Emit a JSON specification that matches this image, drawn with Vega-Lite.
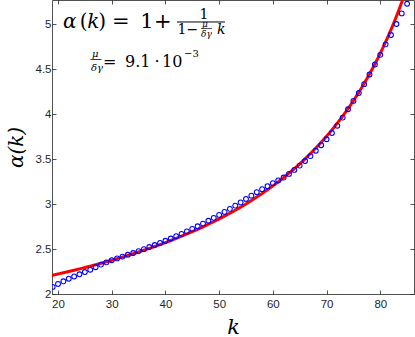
{
  "$schema": "https://vega.github.io/schema/vega-lite/v6.json",
  "width": 362,
  "height": 294,
  "autosize": {"type": "none"},
  "padding": {"left": 52, "top": 0, "right": 1, "bottom": 43},
  "background": "white",
  "config": {"view": {"stroke": null}, "text": {"font": "DejaVu Serif"}},
  "datasets": {
    "curve": [
      {"k": 18.88, "alpha": 2.2074}, {"k": 19, "alpha": 2.2090}, {"k": 20, "alpha": 2.2225}, {"k": 21, "alpha": 2.2362}, {"k": 22, "alpha": 2.2503},
      {"k": 23, "alpha": 2.2647}, {"k": 24, "alpha": 2.2794}, {"k": 25, "alpha": 2.2945}, {"k": 26, "alpha": 2.3099}, {"k": 27, "alpha": 2.3257},
      {"k": 28, "alpha": 2.3419}, {"k": 29, "alpha": 2.3585}, {"k": 30, "alpha": 2.3755}, {"k": 31, "alpha": 2.3930}, {"k": 32, "alpha": 2.4108},
      {"k": 33, "alpha": 2.4292}, {"k": 34, "alpha": 2.4480}, {"k": 35, "alpha": 2.4674}, {"k": 36, "alpha": 2.4872}, {"k": 37, "alpha": 2.5076},
      {"k": 38, "alpha": 2.5286}, {"k": 39, "alpha": 2.5501}, {"k": 40, "alpha": 2.5723}, {"k": 41, "alpha": 2.5952}, {"k": 42, "alpha": 2.6187},
      {"k": 43, "alpha": 2.6429}, {"k": 44, "alpha": 2.6678}, {"k": 45, "alpha": 2.6935}, {"k": 46, "alpha": 2.7200}, {"k": 47, "alpha": 2.7473},
      {"k": 48, "alpha": 2.7756}, {"k": 49, "alpha": 2.8047}, {"k": 50, "alpha": 2.8349}, {"k": 51, "alpha": 2.8660}, {"k": 52, "alpha": 2.8983},
      {"k": 53, "alpha": 2.9316}, {"k": 54, "alpha": 2.9662}, {"k": 55, "alpha": 3.0020}, {"k": 56, "alpha": 3.0392}, {"k": 57, "alpha": 3.0777},
      {"k": 58, "alpha": 3.1178}, {"k": 59, "alpha": 3.1594}, {"k": 60, "alpha": 3.2026}, {"k": 61, "alpha": 3.2477}, {"k": 62, "alpha": 3.2946},
      {"k": 63, "alpha": 3.3436}, {"k": 64, "alpha": 3.3946}, {"k": 65, "alpha": 3.4480}, {"k": 66, "alpha": 3.5038}, {"k": 67, "alpha": 3.5621},
      {"k": 68, "alpha": 3.6233}, {"k": 69, "alpha": 3.6874}, {"k": 70, "alpha": 3.7548}, {"k": 71, "alpha": 3.8257}, {"k": 72, "alpha": 3.9002},
      {"k": 73, "alpha": 3.9789}, {"k": 74, "alpha": 4.0618}, {"k": 75, "alpha": 4.1496}, {"k": 76, "alpha": 4.2425}, {"k": 77, "alpha": 4.3411},
      {"k": 78, "alpha": 4.4459}, {"k": 79, "alpha": 4.5575}, {"k": 80, "alpha": 4.6765}, {"k": 81, "alpha": 4.8037}, {"k": 82, "alpha": 4.9401},
      {"k": 83, "alpha": 5.0866}, {"k": 84, "alpha": 5.2445}, {"k": 85, "alpha": 5.4150}
    ],
    "circles": [
      {"k": 19, "alpha": 2.079}, {"k": 20, "alpha": 2.112}, {"k": 21, "alpha": 2.141}, {"k": 22, "alpha": 2.170}, {"k": 23, "alpha": 2.195},
      {"k": 24, "alpha": 2.219}, {"k": 25, "alpha": 2.244}, {"k": 26, "alpha": 2.270}, {"k": 27, "alpha": 2.298}, {"k": 28, "alpha": 2.327},
      {"k": 29, "alpha": 2.352}, {"k": 30, "alpha": 2.376}, {"k": 31, "alpha": 2.396}, {"k": 32, "alpha": 2.416}, {"k": 33, "alpha": 2.436},
      {"k": 34, "alpha": 2.456}, {"k": 35, "alpha": 2.477}, {"k": 36, "alpha": 2.499}, {"k": 37, "alpha": 2.522}, {"k": 38, "alpha": 2.545},
      {"k": 39, "alpha": 2.568}, {"k": 40, "alpha": 2.592}, {"k": 41, "alpha": 2.617}, {"k": 42, "alpha": 2.643}, {"k": 43, "alpha": 2.669},
      {"k": 44, "alpha": 2.696}, {"k": 45, "alpha": 2.724}, {"k": 46, "alpha": 2.753}, {"k": 47, "alpha": 2.783}, {"k": 48, "alpha": 2.815},
      {"k": 49, "alpha": 2.847}, {"k": 50, "alpha": 2.880}, {"k": 51, "alpha": 2.913}, {"k": 52, "alpha": 2.947}, {"k": 53, "alpha": 2.983},
      {"k": 54, "alpha": 3.019}, {"k": 55, "alpha": 3.057}, {"k": 56, "alpha": 3.094}, {"k": 57, "alpha": 3.133}, {"k": 58, "alpha": 3.166},
      {"k": 59, "alpha": 3.199}, {"k": 60, "alpha": 3.233}, {"k": 61, "alpha": 3.263}, {"k": 62, "alpha": 3.295}, {"k": 63, "alpha": 3.336},
      {"k": 64, "alpha": 3.380}, {"k": 65, "alpha": 3.428}, {"k": 66, "alpha": 3.479}, {"k": 67, "alpha": 3.534}, {"k": 68, "alpha": 3.593},
      {"k": 69, "alpha": 3.655}, {"k": 70, "alpha": 3.721}, {"k": 71, "alpha": 3.791}, {"k": 72, "alpha": 3.872}, {"k": 73, "alpha": 3.962},
      {"k": 74, "alpha": 4.055}, {"k": 75, "alpha": 4.148}, {"k": 76, "alpha": 4.235}, {"k": 77, "alpha": 4.334}, {"k": 78, "alpha": 4.442},
      {"k": 79, "alpha": 4.553}, {"k": 80, "alpha": 4.660}, {"k": 81, "alpha": 4.777}, {"k": 82, "alpha": 4.881}, {"k": 83, "alpha": 5.003},
      {"k": 84, "alpha": 5.121}, {"k": 85, "alpha": 5.228}
    ]
  },
  "layer": [
    {
      "data": {"name": "curve"},
      "mark": {"type": "line", "color": "#ff0000", "strokeWidth": 3, "clip": true, "interpolate": "monotone"},
      "encoding": {
        "x": {"field": "k", "type": "quantitative", "scale": {"domain": [18.88, 86.28], "nice": false, "zero": false},
          "axis": {"orient": "top", "values": [20, 30, 40, 50, 60, 70, 80], "labels": false, "title": null, "grid": false, "tickSize": -4, "tickColor": "#262626", "domainColor": "#262626", "domainWidth": 0.8, "tickWidth": 0.8}},
        "y": {"field": "alpha", "type": "quantitative", "scale": {"domain": [2, 5.27], "nice": false, "zero": false},
          "axis": {"orient": "right", "values": [2, 2.5, 3, 3.5, 4, 4.5, 5], "labels": false, "title": null, "grid": false, "tickSize": -4, "tickColor": "#262626", "domainColor": "#262626", "domainWidth": 0.8, "tickWidth": 0.8}}
      }
    },
    {
      "data": {"name": "circles"},
      "mark": {"type": "point", "shape": "circle", "filled": false, "color": "#0000ff", "size": 23, "strokeWidth": 1.1, "opacity": 1, "clip": true},
      "encoding": {
        "x": {"field": "k", "type": "quantitative",
          "axis": {"orient": "bottom", "values": [20, 30, 40, 50, 60, 70, 80], "grid": false, "tickSize": -4, "tickColor": "#262626", "domainColor": "#262626", "domainWidth": 0.8, "tickWidth": 0.8,
            "labelFont": "Liberation Sans", "labelFontSize": 11.5, "labelColor": "#262626", "labelPadding": 8, "labelOverlap": false, "labelFlush": false,
            "title": "k", "titleFont": "DejaVu Serif", "titleFontStyle": "italic", "titleFontWeight": "normal", "titleFontSize": 21, "titleColor": "black",
            "titleX": 181, "titleY": 39, "titleAlign": "center", "titleBaseline": "alphabetic"}},
        "y": {"field": "alpha", "type": "quantitative",
          "axis": {"orient": "left", "values": [2, 2.5, 3, 3.5, 4, 4.5, 5], "format": ".1~f", "grid": false, "tickSize": -4, "tickColor": "#262626", "domainColor": "#262626", "domainWidth": 0.8, "tickWidth": 0.8,
            "labelFont": "Liberation Sans", "labelFontSize": 11.5, "labelColor": "#262626", "labelPadding": 5, "labelOverlap": false, "labelFlush": false,
            "title": "α(k)", "titleFont": "DejaVu Serif", "titleFontStyle": "italic", "titleFontWeight": "normal", "titleFontSize": 20, "titleColor": "black",
            "titleX": -30, "titleY": 147, "titleAngle": -90, "titleAlign": "center", "titleBaseline": "alphabetic"}}
      }
    },
    {"data": {"values": [{}]}, "mark": {"type": "text", "text": "α", "fontStyle": "italic", "fontSize": 20, "align": "left", "baseline": "alphabetic", "color": "black"},
      "encoding": {"x": {"datum": 20.93, "type": "quantitative", "axis": null}, "y": {"datum": 4.9533, "type": "quantitative", "axis": null}}},
    {"data": {"values": [{}]}, "mark": {"type": "text", "text": "(", "fontSize": 20, "align": "left", "baseline": "alphabetic", "color": "black"},
      "encoding": {"x": {"datum": 24.05, "type": "quantitative", "axis": null}, "y": {"datum": 4.9533, "type": "quantitative", "axis": null}}},
    {"data": {"values": [{}]}, "mark": {"type": "text", "text": "k", "fontStyle": "italic", "fontSize": 20, "align": "left", "baseline": "alphabetic", "color": "black"},
      "encoding": {"x": {"datum": 25.45, "type": "quantitative", "axis": null}, "y": {"datum": 4.9533, "type": "quantitative", "axis": null}}},
    {"data": {"values": [{}]}, "mark": {"type": "text", "text": ")", "fontSize": 20, "align": "left", "baseline": "alphabetic", "color": "black"},
      "encoding": {"x": {"datum": 27.50, "type": "quantitative", "axis": null}, "y": {"datum": 4.9533, "type": "quantitative", "axis": null}}},
    {"data": {"values": [{}]}, "mark": {"type": "text", "text": "=", "fontSize": 21, "align": "left", "baseline": "alphabetic", "color": "black"},
      "encoding": {"x": {"datum": 30.05, "type": "quantitative", "axis": null}, "y": {"datum": 4.9533, "type": "quantitative", "axis": null}}},
    {"data": {"values": [{}]}, "mark": {"type": "text", "text": "1", "fontSize": 21, "align": "left", "baseline": "alphabetic", "color": "black"},
      "encoding": {"x": {"datum": 35.30, "type": "quantitative", "axis": null}, "y": {"datum": 4.9533, "type": "quantitative", "axis": null}}},
    {"data": {"values": [{}]}, "mark": {"type": "text", "text": "+", "fontSize": 21, "align": "left", "baseline": "alphabetic", "color": "black"},
      "encoding": {"x": {"datum": 37.87, "type": "quantitative", "axis": null}, "y": {"datum": 4.9533, "type": "quantitative", "axis": null}}},
    {"data": {"values": [{}]}, "mark": {"type": "text", "text": "1", "fontSize": 14, "align": "center", "baseline": "alphabetic", "color": "black"},
      "encoding": {"x": {"datum": 47.18, "type": "quantitative", "axis": null}, "y": {"datum": 5.0534, "type": "quantitative", "axis": null}}},
    {"data": {"values": [{}]}, "mark": {"type": "rule", "color": "black", "strokeWidth": 1},
      "encoding": {"x": {"datum": 42.15, "type": "quantitative", "axis": null}, "x2": {"datum": 51.09}, "y": {"datum": 5.0256, "type": "quantitative", "axis": null}}},
    {"data": {"values": [{}]}, "mark": {"type": "text", "text": "1−", "fontSize": 14, "align": "left", "baseline": "alphabetic", "color": "black"},
      "encoding": {"x": {"datum": 42.25, "type": "quantitative", "axis": null}, "y": {"datum": 4.8865, "type": "quantitative", "axis": null}}},
    {"data": {"values": [{}]}, "mark": {"type": "text", "text": "μ", "fontStyle": "italic", "fontSize": 9, "align": "left", "baseline": "alphabetic", "color": "black"},
      "encoding": {"x": {"datum": 46.81, "type": "quantitative", "axis": null}, "y": {"datum": 4.970, "type": "quantitative", "axis": null}}},
    {"data": {"values": [{}]}, "mark": {"type": "rule", "color": "black", "strokeWidth": 0.7},
      "encoding": {"x": {"datum": 46.62, "type": "quantitative", "axis": null}, "x2": {"datum": 48.67}, "y": {"datum": 4.9533, "type": "quantitative", "axis": null}}},
    {"data": {"values": [{}]}, "mark": {"type": "text", "text": "δγ", "fontStyle": "italic", "fontSize": 9, "align": "left", "baseline": "alphabetic", "color": "black"},
      "encoding": {"x": {"datum": 46.62, "type": "quantitative", "axis": null}, "y": {"datum": 4.8587, "type": "quantitative", "axis": null}}},
    {"data": {"values": [{}]}, "mark": {"type": "text", "text": "k", "fontStyle": "italic", "fontSize": 14, "align": "left", "baseline": "alphabetic", "color": "black"},
      "encoding": {"x": {"datum": 49.60, "type": "quantitative", "axis": null}, "y": {"datum": 4.8865, "type": "quantitative", "axis": null}}},
    {"data": {"values": [{}]}, "mark": {"type": "text", "text": "μ", "fontStyle": "italic", "fontSize": 10, "align": "left", "baseline": "alphabetic", "color": "black"},
      "encoding": {"x": {"datum": 26.33, "type": "quantitative", "axis": null}, "y": {"datum": 4.6363, "type": "quantitative", "axis": null}}},
    {"data": {"values": [{}]}, "mark": {"type": "rule", "color": "black", "strokeWidth": 0.8},
      "encoding": {"x": {"datum": 26.05, "type": "quantitative", "axis": null}, "x2": {"datum": 28.10}, "y": {"datum": 4.6085, "type": "quantitative", "axis": null}}},
    {"data": {"values": [{}]}, "mark": {"type": "text", "text": "δγ", "fontStyle": "italic", "fontSize": 10, "align": "left", "baseline": "alphabetic", "color": "black"},
      "encoding": {"x": {"datum": 26.14, "type": "quantitative", "axis": null}, "y": {"datum": 4.4805, "type": "quantitative", "axis": null}}},
    {"data": {"values": [{}]}, "mark": {"type": "text", "text": "=", "fontSize": 16, "align": "left", "baseline": "alphabetic", "color": "black"},
      "encoding": {"x": {"datum": 28.38, "type": "quantitative", "axis": null}, "y": {"datum": 4.525, "type": "quantitative", "axis": null}}},
    {"data": {"values": [{}]}, "mark": {"type": "text", "text": "9.1", "fontSize": 16, "align": "left", "baseline": "alphabetic", "color": "black"},
      "encoding": {"x": {"datum": 32.47, "type": "quantitative", "axis": null}, "y": {"datum": 4.525, "type": "quantitative", "axis": null}}},
    {"data": {"values": [{}]}, "mark": {"type": "text", "text": "·", "fontSize": 16, "align": "center", "baseline": "alphabetic", "color": "black"},
      "encoding": {"x": {"datum": 38.43, "type": "quantitative", "axis": null}, "y": {"datum": 4.525, "type": "quantitative", "axis": null}}},
    {"data": {"values": [{}]}, "mark": {"type": "text", "text": "10", "fontSize": 16, "align": "left", "baseline": "alphabetic", "color": "black"},
      "encoding": {"x": {"datum": 39.36, "type": "quantitative", "axis": null}, "y": {"datum": 4.525, "type": "quantitative", "axis": null}}},
    {"data": {"values": [{}]}, "mark": {"type": "text", "text": "−3", "fontSize": 10, "align": "left", "baseline": "alphabetic", "color": "black"},
      "encoding": {"x": {"datum": 43.46, "type": "quantitative", "axis": null}, "y": {"datum": 4.6363, "type": "quantitative", "axis": null}}}
  ],
  "resolve": {"axis": {"x": "independent", "y": "independent"}}
}
